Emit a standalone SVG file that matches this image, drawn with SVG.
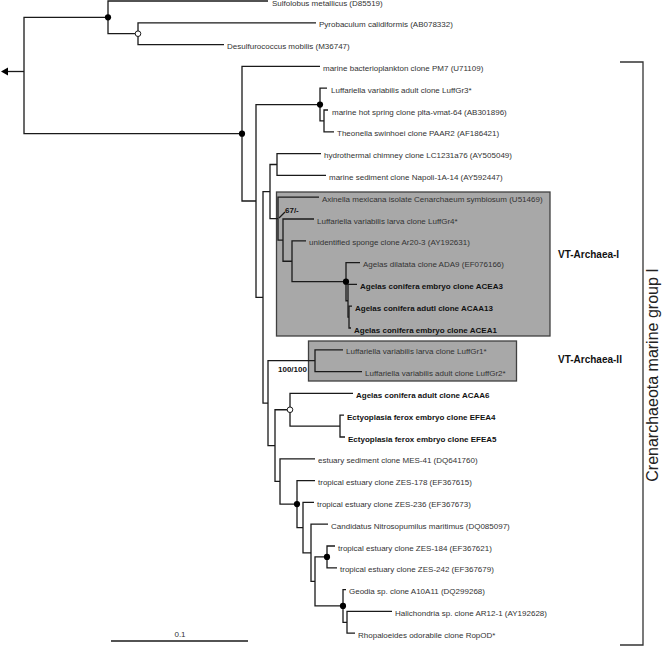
<svg xmlns="http://www.w3.org/2000/svg" width="664" height="649" viewBox="0 0 664 649">
<style>
.br{fill:none;stroke:#1a1a1a;stroke-width:1.3}
.t{font-family:"Liberation Sans",Arial,sans-serif;font-size:8px;fill:#333}
.b{font-family:"Liberation Sans",Arial,sans-serif;font-size:8px;font-weight:bold;fill:#111}
.dot{fill:#000}
.open{fill:#fff;stroke:#1a1a1a;stroke-width:1}
.box{fill:#a8a8a8;stroke:#404040;stroke-width:1.3}
.clade{font-family:"Liberation Sans",Arial,sans-serif;font-size:10px;font-weight:bold;fill:#111}
.grp{font-family:"Liberation Sans",Arial,sans-serif;font-size:16px;fill:#222}
</style>
<rect width="664" height="649" fill="#fff"/>
<g id="box-vt-archaea-i"><rect class="box" x="276.5" y="192" width="273.5" height="144"/></g>
<g id="box-vt-archaea-ii"><rect class="box" x="308.5" y="341" width="208" height="40"/></g>
<g id="connectors">
<path class="br" d="M8 71.5 H24"/>
<polygon points="1,71.5 8,67.5 8,75.5" fill="#000"/>
<path class="br" d="M242 133.7 H24 V17.35 H108"/>
<path class="br" d="M268 1 H108 V33.7 H138"/>
<path class="br" d="M316 22.8 H138 V44.6 H224"/>
<path class="br" d="M320 66.4 H242 V201 H256"/>
<path class="br" d="M320 104.55 H256 V297.4 H263"/>
<path class="br" d="M327 88.2 H320 V120.9 H324"/>
<path class="br" d="M328 110 H324 V131.8 H334"/>
<path class="br" d="M270 191.6 H263 V403.15 H268"/>
<path class="br" d="M277 164.5 H270 V218.65 H278"/>
<path class="br" d="M321 153.6 H277 V175.4 H326"/>
<path class="br" d="M319 197.2 H278 V240.1 H283"/>
<path class="br" d="M314 219 H283 V261.25 H292"/>
<path class="br" d="M306 240.8 H292 V281.7 H346"/>
<path class="br" d="M360 262.6 H346 V300.75 H348"/>
<path class="br" d="M357 284.4 H348 V317.1 H349"/>
<path class="br" d="M352 306.2 H349 V328 H351"/>
<path class="br" d="M315 360.7 H268 V445.6 H275"/>
<path class="br" d="M343 349.8 H315 V371.6 H362"/>
<path class="br" d="M290 409.75 H275 V481.45 H280"/>
<path class="br" d="M353 393.4 H290 V426.1 H340"/>
<path class="br" d="M344 415.2 H340 V437 H345"/>
<path class="br" d="M315 458.8 H280 V504.1 H297"/>
<path class="br" d="M315 480.6 H297 V527.6 H303"/>
<path class="br" d="M314 502.4 H303 V552.8 H311"/>
<path class="br" d="M328 524.2 H311 V581.4 H315"/>
<path class="br" d="M327 556.9 H315 V605.95 H343"/>
<path class="br" d="M335 546 H327 V567.8 H337"/>
<path class="br" d="M346 589.6 H343 V622.3 H347"/>
<path class="br" d="M392 611.4 H347 V633.2 H355"/>
<path class="br" d="M279 218 L285 212" stroke-width="0.9"/>
</g>
<g id="support-markers">
<circle class="dot" cx="108" cy="17.35" r="3.1"/>
<circle class="dot" cx="242" cy="133.7" r="3.1"/>
<circle class="dot" cx="320" cy="104.55" r="3.1"/>
<circle class="dot" cx="346" cy="281.7" r="3.1"/>
<circle class="dot" cx="297" cy="504.1" r="3.1"/>
<circle class="dot" cx="327" cy="556.9" r="3.1"/>
<circle class="dot" cx="343" cy="605.95" r="3.1"/>
<circle class="open" cx="138" cy="33.7" r="2.8"/>
<circle class="open" cx="290" cy="409.75" r="2.8"/>
</g>
<g id="leaf-sulfolobus"><text class="t" x="272" y="6">Sulfolobus metallicus (D85519)</text></g>
<g id="leaf-pyrobaculum"><text class="t" x="319" y="27.3">Pyrobaculum calidiformis (AB078332)</text></g>
<g id="leaf-desulfurococcus"><text class="t" x="227" y="49.1">Desulfurococcus mobilis (M36747)</text></g>
<g id="leaf-pm7"><text class="t" x="323" y="70.9">marine bacterioplankton clone PM7 (U71109)</text></g>
<g id="leaf-luffgr3"><text class="t" x="331" y="92.7">Luffariella variabilis adult clone LuffGr3*</text></g>
<g id="leaf-plta"><text class="t" x="332" y="114.5">marine hot spring clone plta-vmat-64 (AB301896)</text></g>
<g id="leaf-paar2"><text class="t" x="337" y="136.3">Theonella swinhoei clone PAAR2 (AF186421)</text></g>
<g id="leaf-lc1231"><text class="t" x="324" y="158.1">hydrothermal chimney clone LC1231a76 (AY505049)</text></g>
<g id="leaf-napoli"><text class="t" x="329" y="179.9">marine sediment clone Napoli-1A-14 (AY592447)</text></g>
<g id="leaf-axinella"><text class="t" x="322" y="201.7">Axinella mexicana isolate Cenarchaeum symbiosum (U51469)</text></g>
<g id="leaf-luffgr4"><text class="t" x="317" y="223.5">Luffariella variabilis larva clone LuffGr4*</text></g>
<g id="leaf-ar20"><text class="t" x="309" y="245.3">unidentified sponge clone Ar20-3 (AY192631)</text></g>
<g id="leaf-ada9"><text class="t" x="363" y="267.1">Agelas dilatata clone ADA9 (EF076166)</text></g>
<g id="leaf-acea3"><text class="b" x="360" y="288.9">Agelas conifera embryo clone ACEA3</text></g>
<g id="leaf-acaa13"><text class="b" x="355" y="310.7">Agelas conifera adutl clone ACAA13</text></g>
<g id="leaf-acea1"><text class="b" x="354" y="332.5">Agelas conifera embryo clone ACEA1</text></g>
<g id="leaf-luffgr1"><text class="t" x="346" y="354.3">Luffariella variabilis larva clone LuffGr1*</text></g>
<g id="leaf-luffgr2"><text class="t" x="365" y="376.1">Luffariella variabilis adult clone LuffGr2*</text></g>
<g id="leaf-acaa6"><text class="b" x="356" y="397.9">Agelas conifera adult clone ACAA6</text></g>
<g id="leaf-efea4"><text class="b" x="347" y="419.7">Ectyoplasia ferox embryo clone EFEA4</text></g>
<g id="leaf-efea5"><text class="b" x="348" y="441.5">Ectyoplasia ferox embryo clone EFEA5</text></g>
<g id="leaf-mes41"><text class="t" x="318" y="463.3">estuary sediment clone MES-41 (DQ641760)</text></g>
<g id="leaf-zes178"><text class="t" x="318" y="485.1">tropical estuary clone ZES-178 (EF367615)</text></g>
<g id="leaf-zes236"><text class="t" x="317" y="506.9">tropical estuary clone ZES-236 (EF367673)</text></g>
<g id="leaf-nitrosopumilus"><text class="t" x="331" y="528.7">Candidatus Nitrosopumilus maritimus (DQ085097)</text></g>
<g id="leaf-zes184"><text class="t" x="338" y="550.5">tropical estuary clone ZES-184 (EF367621)</text></g>
<g id="leaf-zes242"><text class="t" x="340" y="572.3">tropical estuary clone ZES-242 (EF367679)</text></g>
<g id="leaf-geodia"><text class="t" x="349" y="594.1">Geodia sp. clone A10A11 (DQ299268)</text></g>
<g id="leaf-halichondria"><text class="t" x="395" y="615.9">Halichondria sp. clone AR12-1 (AY192628)</text></g>
<g id="leaf-ropod"><text class="t" x="358" y="637.7">Rhopaloeides odorabile clone RopOD*</text></g>
<g id="support-labels">
<text class="b" x="285" y="212.5">67/-</text>
<text class="b" x="278" y="372">100/100</text>
</g>
<g id="label-vt-archaea-i"><text class="clade" x="558" y="258">VT-Archaea-I</text></g>
<g id="label-vt-archaea-ii"><text class="clade" x="558" y="363">VT-Archaea-II</text></g>
<g id="group-crenarchaeota">
<path d="M620 62 H643 V645 H620" fill="none" stroke="#333" stroke-width="1.3"/>
<text class="grp" transform="translate(658,375) rotate(-90)" text-anchor="middle">Crenarchaeota marine group I</text>
</g>
<g id="scale-bar">
<path d="M111 641 H248" stroke="#1a1a1a" stroke-width="1.3"/>
<text class="t" x="180" y="637" text-anchor="middle" font-size="9">0.1</text>
</g>
</svg>
